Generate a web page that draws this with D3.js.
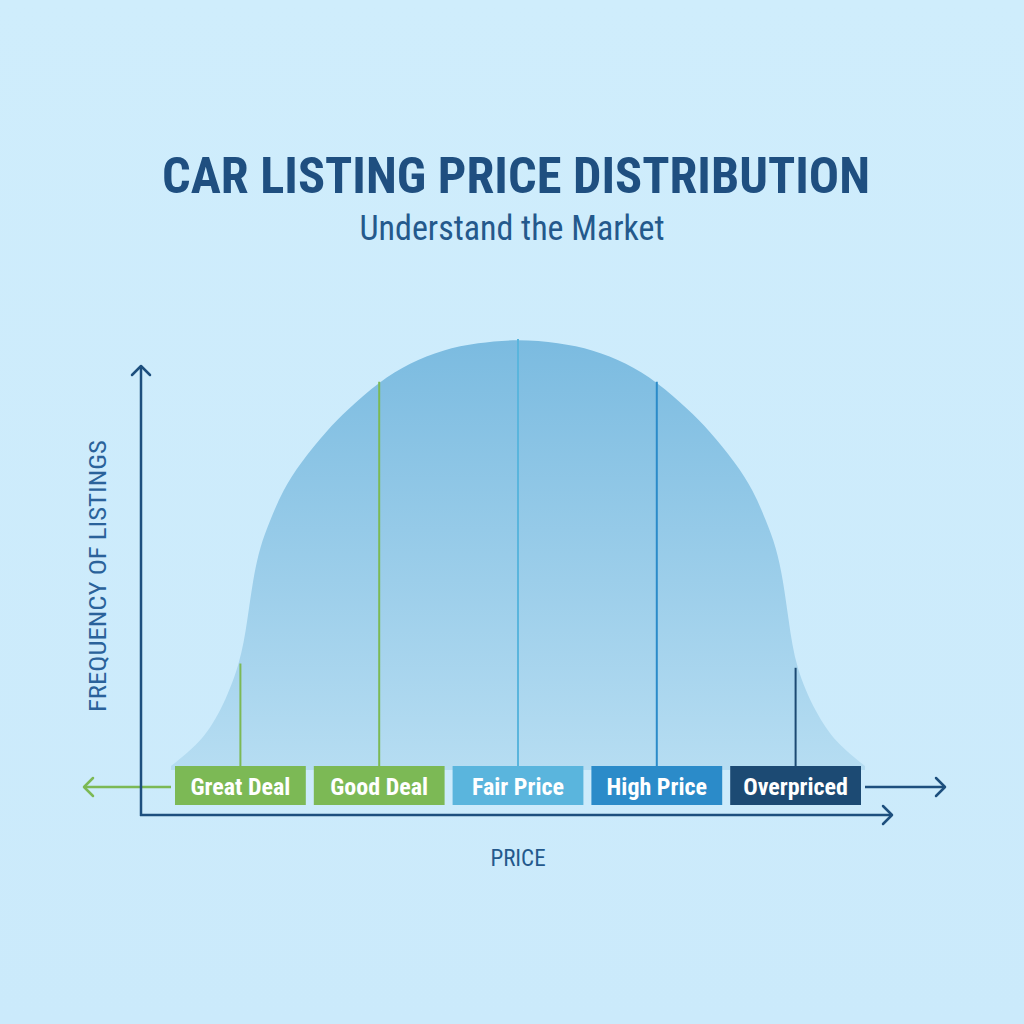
<!DOCTYPE html>
<html lang="en">
<head>
<meta charset="UTF-8">
<title>Car Listing Price Distribution</title>
<script src="https://d3js.org/d3.v7.min.js"></script>
<style>
    html, body { margin: 0; padding: 0; }
    body { width: 1024px; height: 1024px; overflow: hidden; }
    svg { display: block; }
    .cond { font-family: "Roboto Condensed", "Liberation Sans Narrow", "DejaVu Sans Condensed", Roboto, sans-serif; font-stretch: condensed; }
</style>
</head>
<body>
<svg id="chart" width="1024" height="1024"></svg>
<script>
    // price index (0-100) and relative frequency
    const prices = [0, 4.2, 7.1, 10, 11, 11.8, 12.8, 14.3, 16.1, 18.6, 22.5, 25.4, 30, 34.4, 39.2, 44.1, 50,
                    55.9, 60.8, 65.6, 70, 74.6, 77.5, 81.4, 83.9, 85.7, 87.2, 88.2, 89, 90, 92.9, 95.8, 100];
    const freqs  = [0, 5.4, 12.4, 24, 34, 43.6, 51.3, 57.6, 64.6, 70.9, 78.7, 83.4, 90, 94.4, 97.5, 99.1, 100,
                    99.1, 97.5, 94.4, 90, 83.4, 78.7, 70.9, 64.6, 57.6, 51.3, 43.6, 34, 23, 12.4, 5.4, 0];

    const categories = ["Great Deal", "Good Deal", "Fair Price", "High Price", "Overpriced"];
    const catCenters = [10, 30, 50, 70, 90];
    const catColors  = ["#7cb955", "#7cb955", "#5ab5dd", "#2b8bc9", "#1c4a73"];

    const title = "CAR LISTING PRICE DISTRIBUTION";
    const subtitle = "Understand the Market";
    const xLabel = "PRICE";
    const yLabel = "FREQUENCY OF LISTINGS";

    const svg = d3.select("#chart");
    const defs = svg.append("defs");

    const bg = defs.append("linearGradient").attr("id", "bg")
        .attr("x1", 0).attr("y1", 0).attr("x2", 0).attr("y2", 1);
    bg.append("stop").attr("offset", "0%").attr("stop-color", "#cfedfc");
    bg.append("stop").attr("offset", "100%").attr("stop-color", "#cbeafb");

    const fillGrad = defs.append("linearGradient").attr("id", "curveFill")
        .attr("gradientUnits", "userSpaceOnUse")
        .attr("x1", 0).attr("y1", 339).attr("x2", 0).attr("y2", 770);
    fillGrad.append("stop").attr("offset", "0%").attr("stop-color", "#7bbbe0");
    fillGrad.append("stop").attr("offset", "100%").attr("stop-color", "#b6ddf2");

    svg.append("rect").attr("width", 1024).attr("height", 1024).attr("fill", "url(#bg)");

    const x = d3.scaleLinear().domain([0, 100]).range([171, 865]);
    const y = d3.scaleLinear().domain([0, 100]).range([766, 339]);

    const data = prices.map((p, i) => ({ p: p, f: freqs[i] }));

    // title block
    svg.append("text").attr("class", "cond")
        .attr("x", 516).attr("y", 193)
        .attr("text-anchor", "middle")
        .attr("font-size", 50).attr("font-weight", 700)
        .attr("fill", "#1f4f80")
        .attr("textLength", 708).attr("lengthAdjust", "spacingAndGlyphs")
        .text(title);

    svg.append("text").attr("class", "cond")
        .attr("x", 512).attr("y", 240)
        .attr("text-anchor", "middle")
        .attr("font-size", 35).attr("font-weight", 400)
        .attr("fill", "#24598c")
        .attr("textLength", 305).attr("lengthAdjust", "spacingAndGlyphs")
        .text(subtitle);

    // distribution curve
    const area = d3.area()
        .x(d => x(d.p))
        .y0(y(0) + 4)
        .y1(d => y(d.f))
        .curve(d3.curveBasis);

    svg.append("path")
        .datum(data)
        .attr("d", area)
        .attr("fill", "url(#curveFill)");

    const lineY = d3.scaleLinear().domain(prices).range(freqs);

    svg.selectAll(".divider")
        .data(categories)
        .enter().append("line")
        .attr("class", "divider")
        .attr("x1", (d, i) => x(catCenters[i]))
        .attr("x2", (d, i) => x(catCenters[i]))
        .attr("y1", y(0))
        .attr("y2", (d, i) => y(lineY(catCenters[i])))
        .attr("stroke", (d, i) => catColors[i])
        .attr("stroke-width", 2);

    // axes
    const axisColor = "#1d4f7e";
    function arrowHead(px, py, dir, color) {
        const s = 9;
        let pts;
        if (dir === "up") pts = [[px - s, py + s], [px, py], [px + s, py + s]];
        else if (dir === "right") pts = [[px - s, py - s], [px, py], [px - s, py + s]];
        else pts = [[px + s, py - s], [px, py], [px + s, py + s]];
        svg.append("path")
            .attr("d", d3.line()(pts))
            .attr("fill", "none").attr("stroke", color)
            .attr("stroke-width", 2.5).attr("stroke-linecap", "round").attr("stroke-linejoin", "round");
    }

    // price band arrow through the boxes
    svg.append("line").attr("x1", 84).attr("x2", x(0)).attr("y1", 787).attr("y2", 787)
        .attr("stroke", "#7cb955").attr("stroke-width", 2.5);
    arrowHead(84, 787, "left", "#7cb955");
    svg.append("line").attr("x1", x(100)).attr("x2", 945).attr("y1", 787).attr("y2", 787)
        .attr("stroke", axisColor).attr("stroke-width", 2.5);
    arrowHead(945, 787, "right", axisColor);

    svg.append("line").attr("x1", 141).attr("x2", 141).attr("y1", 816).attr("y2", 366)
        .attr("stroke", axisColor).attr("stroke-width", 2.5);
    arrowHead(141, 366, "up", axisColor);
    svg.append("line").attr("x1", 140).attr("x2", 892).attr("y1", 815).attr("y2", 815)
        .attr("stroke", axisColor).attr("stroke-width", 2.5);
    arrowHead(892, 815, "right", axisColor);

    // category boxes
    const band = x(20) - x(0);
    const boxes = svg.selectAll(".cat")
        .data(categories)
        .enter().append("g").attr("class", "cat");

    boxes.append("rect")
        .attr("x", (d, i) => x(catCenters[i]) - band / 2 + 4)
        .attr("y", 766)
        .attr("width", band - 8)
        .attr("height", 39)
        .attr("fill", (d, i) => catColors[i]);

    boxes.append("text").attr("class", "cond")
        .attr("x", (d, i) => x(catCenters[i]))
        .attr("y", 795)
        .attr("text-anchor", "middle")
        .attr("font-size", 24).attr("font-weight", 700)
        .attr("fill", "#ffffff")
        .text(d => d);

    // axis labels
    svg.append("text").attr("class", "cond")
        .attr("x", 518).attr("y", 866)
        .attr("text-anchor", "middle")
        .attr("font-size", 23)
        .attr("fill", "#24598c")
        .text(xLabel);

    svg.append("text").attr("class", "cond")
        .attr("transform", "translate(106,576) rotate(-90)")
        .attr("text-anchor", "middle")
        .attr("font-size", 23)
        .attr("fill", "#2a629a")
        .attr("textLength", 272).attr("lengthAdjust", "spacingAndGlyphs")
        .text(yLabel);
</script>
</body>
</html>
